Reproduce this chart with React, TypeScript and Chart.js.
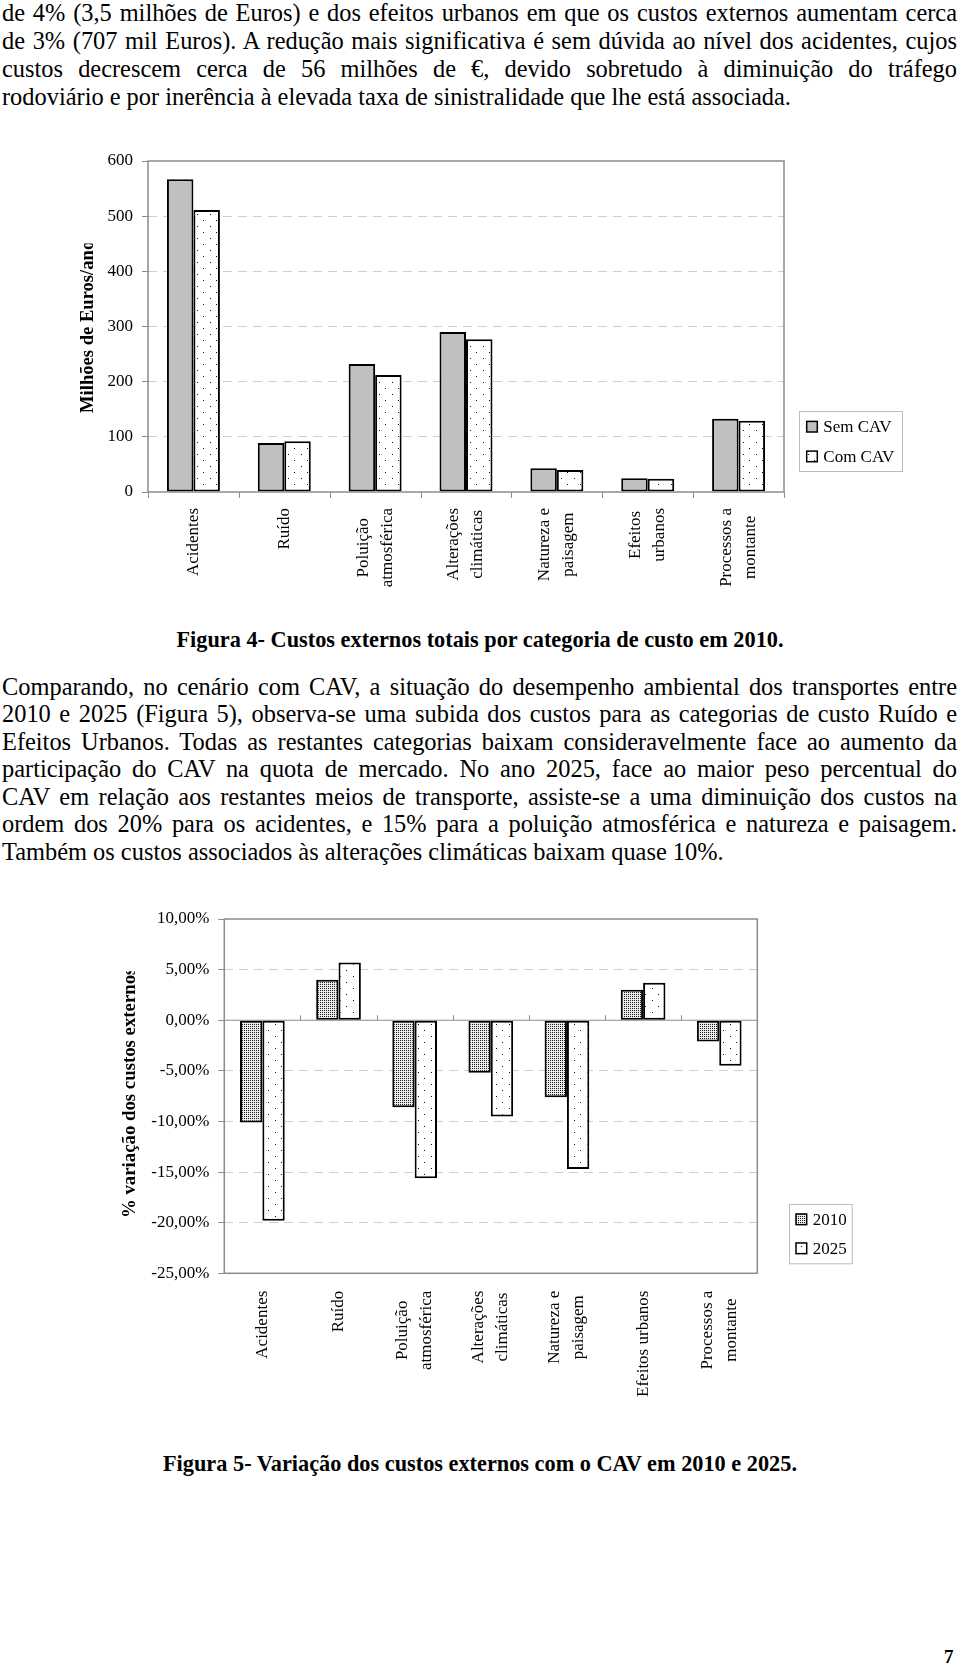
import React, { useEffect, useRef } from 'react';
import { Chart, registerables } from 'chart.js';

Chart.register(...registerables);

// ---------- Figure 4 data ----------
const fig4Categories: (string | string[])[] = [
  'Acidentes',
  'Ruído',
  ['Poluição', 'atmosférica'],
  ['Alterações', 'climáticas'],
  ['Natureza e', 'paisagem'],
  ['Efeitos', 'urbanos'],
  ['Processos a', 'montante'],
];
const fig4SeriesNames = ['Sem CAV', 'Com CAV'];
const fig4SemCAV = [567, 89, 232, 290, 43, 25, 133];
const fig4ComCAV = [511, 92, 212, 277, 40, 24, 129];
const fig4YMin = 0;
const fig4YMax = 600;
const fig4YStep = 100;
const fig4YTitle = 'Milhões de Euros/ano';
const fig4Caption = 'Figura 4- Custos externos totais por categoria de custo em 2010.';

// ---------- Figure 5 data ----------
const fig5Categories: (string | string[])[] = [
  'Acidentes',
  'Ruído',
  ['Poluição', 'atmosférica'],
  ['Alterações', 'climáticas'],
  ['Natureza e', 'paisagem'],
  'Efeitos urbanos',
  ['Processos a', 'montante'],
];
const fig5SeriesNames = ['2010', '2025'];
const fig5Y2010 = [-10.1, 4.0, -8.6, -5.2, -7.6, 3.0, -2.1];
const fig5Y2025 = [-19.8, 5.7, -15.6, -9.5, -14.7, 3.7, -4.5];
const fig5YMin = -25;
const fig5YMax = 10;
const fig5YStep = 5;
const fig5YTitle = '% variação dos custos externos';
const fig5Caption = 'Figura 5- Variação dos custos externos com o CAV em 2010 e 2025.';

// ---------- Text ----------
const para1 = [
  'de 4% (3,5 milhões de Euros) e dos efeitos urbanos em que os custos externos aumentam cerca',
  'de 3% (707 mil Euros). A redução mais significativa é sem dúvida ao nível dos acidentes, cujos',
  'custos decrescem cerca de 56 milhões de €, devido sobretudo à diminuição do tráfego',
  'rodoviário e por inerência à elevada taxa de sinistralidade que lhe está associada.',
];
const para2 = [
  'Comparando, no cenário com CAV, a situação do desempenho ambiental dos transportes entre',
  '2010 e 2025 (Figura 5), observa-se uma subida dos custos para as categorias de custo Ruído e',
  'Efeitos Urbanos. Todas as restantes categorias baixam consideravelmente face ao aumento da',
  'participação do CAV na quota de mercado. No ano 2025, face ao maior peso percentual do',
  'CAV em relação aos restantes meios de transporte, assiste-se a uma diminuição dos custos na',
  'ordem dos 20% para os acidentes, e 15% para a poluição atmosférica e natureza e paisagem.',
  'Também os custos associados às alterações climáticas baixam quase 10%.',
];
const pageNumber = '7';

const FONT = "'Liberation Serif', 'Times New Roman', serif";

function makePattern(w: number, h: number, dots: [number, number][], size = 1, dot = '#000', bg = '#fff') {
  const c = document.createElement('canvas');
  c.width = w;
  c.height = h;
  const x = c.getContext('2d')!;
  x.fillStyle = bg;
  x.fillRect(0, 0, w, h);
  x.fillStyle = dot;
  dots.forEach(([a, b]) => x.fillRect(a, b, size, size));
  return x.createPattern(c, 'repeat')!;
}

const decorPlugin = {
  id: 'decor',
  beforeDatasetsDraw(chart: any, _a: any, o: any) {
    if (!o || !o.zeroLine) return;
    const { ctx, chartArea: a } = chart;
    const z = chart.scales.y.getPixelForValue(0);
    ctx.save();
    ctx.strokeStyle = '#8c8c8c';
    ctx.lineWidth = 1.2;
    ctx.beginPath();
    ctx.moveTo(a.left, z);
    ctx.lineTo(a.right, z);
    ctx.stroke();
    ctx.restore();
  },
  afterDraw(chart: any, _a: any, o: any) {
    const { ctx, chartArea: a } = chart;
    const xs = chart.scales.x;
    const ys = chart.scales.y;
    ctx.save();
    // plot border
    ctx.strokeStyle = '#8c8c8c';
    ctx.lineWidth = 1.5;
    ctx.strokeRect(a.left, a.top, a.right - a.left, a.bottom - a.top);
    // category tick marks at the zero line
    const z = ys.getPixelForValue(0);
    const half = (xs.getPixelForValue(1) - xs.getPixelForValue(0)) / 2;
    ctx.lineWidth = 1;
    for (let i = o.tickFrom; i <= o.tickTo; i++) {
      const px = Math.round(xs.getPixelForValue(i) - half) + 0.5;
      ctx.beginPath();
      ctx.moveTo(px, z);
      ctx.lineTo(px, z + o.tickLen);
      ctx.stroke();
    }
    // rotated category labels
    ctx.fillStyle = '#000';
    ctx.font = `17px ${FONT}`;
    const top = a.bottom + o.labelGap;
    (chart.data.labels as any[]).forEach((lab, i) => {
      const lines: string[] = Array.isArray(lab) ? lab : [lab];
      const maxW = Math.max(...lines.map((l) => ctx.measureText(l).width));
      const cx = xs.getPixelForValue(i);
      lines.forEach((line, j) => {
        const lx = cx + (j - (lines.length - 1) / 2) * o.lineGap;
        ctx.save();
        ctx.translate(lx, top + maxW / 2);
        ctx.rotate(-Math.PI / 2);
        ctx.textAlign = 'center';
        ctx.textBaseline = 'middle';
        ctx.fillText(line, 0, 0);
        ctx.restore();
      });
    });
    // y-axis title (clipped like the original)
    const T = o.yTitle;
    ctx.font = `bold ${T.size}px ${FONT}`;
    const visW =
      ctx.measureText(T.text.slice(0, T.visibleChars)).width +
      T.partial * ctx.measureText(T.text[T.visibleChars]).width;
    ctx.save();
    ctx.beginPath();
    ctx.rect(0, T.y - visW, chart.width, chart.height);
    ctx.clip();
    ctx.translate(T.x, T.y);
    ctx.rotate(-Math.PI / 2);
    ctx.textAlign = 'left';
    ctx.textBaseline = 'middle';
    ctx.fillStyle = '#000';
    ctx.fillText(T.text, 0, 0);
    ctx.restore();
    // legend
    const L = o.legend;
    const bx = a.right + L.dx;
    const by = a.bottom - L.bottomGap - L.h;
    ctx.fillStyle = '#fff';
    ctx.fillRect(bx, by, L.w, L.h);
    ctx.strokeStyle = '#bdbdbd';
    ctx.lineWidth = 1;
    ctx.strokeRect(Math.round(bx) + 0.5, Math.round(by) + 0.5, L.w, L.h);
    chart.data.datasets.forEach((ds: any, k: number) => {
      const cy = by + L.firstRow + k * L.rowGap;
      ctx.fillStyle = ds.backgroundColor;
      ctx.fillRect(bx + L.sqX, cy - L.sq / 2, L.sq, L.sq);
      ctx.strokeStyle = '#000';
      ctx.lineWidth = 1.5;
      ctx.strokeRect(bx + L.sqX, cy - L.sq / 2, L.sq, L.sq);
      ctx.fillStyle = '#000';
      ctx.font = `17px ${FONT}`;
      ctx.textAlign = 'left';
      ctx.textBaseline = 'middle';
      ctx.fillText(ds.label, bx + L.textX, cy + 1);
    });
    ctx.restore();
  },
};

function gridColor(min: number, max: number) {
  return (c: any) => {
    const v = c.tick ? c.tick.value : null;
    if (v === min || v === max || v === 0) return 'rgba(0,0,0,0)';
    return '#cfcfcf';
  };
}

const sparseDots: [number, number][] = [
  [2, 2],
  [8, 8],
];

function Fig4() {
  const ref = useRef<HTMLCanvasElement>(null);
  useEffect(() => {
    const solidGray = '#c0c0c0';
    const sparse = makePattern(13, 12, sparseDots, 1, '#111');
    const chart = new Chart(ref.current!, {
      type: 'bar',
      data: {
        labels: fig4Categories as any,
        datasets: [
          {
            label: fig4SeriesNames[0],
            data: fig4SemCAV,
            backgroundColor: solidGray,
            borderColor: '#000',
            borderWidth: 2,
            borderSkipped: false,
            categoryPercentage: 0.583,
            barPercentage: 1,
          },
          {
            label: fig4SeriesNames[1],
            data: fig4ComCAV,
            backgroundColor: sparse as any,
            borderColor: '#000',
            borderWidth: 2,
            borderSkipped: false,
            categoryPercentage: 0.583,
            barPercentage: 1,
          },
        ],
      },
      options: {
        responsive: false,
        animation: false,
        events: [],
        layout: { padding: { left: 48, right: 176, top: 21, bottom: 18 } },
        scales: {
          x: {
            ticks: { display: false },
            grid: { display: false },
            border: { display: false },
            afterFit: (s: any) => {
              s.height = 100;
            },
          },
          y: {
            min: fig4YMin,
            max: fig4YMax,
            ticks: { stepSize: fig4YStep, font: { family: FONT, size: 17 }, color: '#000', padding: 9 },
            grid: { color: gridColor(fig4YMin, fig4YMax) as any, tickColor: '#8c8c8c', tickLength: 6, lineWidth: 1 },
            border: { display: false, dash: [9, 6] },
            afterFit: (s: any) => {
              s.width = 100;
            },
          },
        },
        plugins: {
          legend: { display: false },
          tooltip: { enabled: false },
          decor: {
            zeroLine: false,
            tickFrom: 0,
            tickTo: 7,
            tickLen: 6,
            labelGap: 16,
            lineGap: 24,
            yTitle: { text: fig4YTitle, size: 18.6, x: 88, y: 273, visibleChars: 19, partial: 0.7 },
            legend: { dx: 15.3, bottomGap: 20.6, w: 103, h: 60, firstRow: 15.3, rowGap: 29.7, sqX: 7.4, sq: 10.6, textX: 24 },
          },
        } as any,
      },
      plugins: [decorPlugin as any],
    });
    return () => chart.destroy();
  }, []);
  return (
    <canvas ref={ref} width={960} height={470} style={{ position: 'absolute', left: 0, top: 140, width: 960, height: 470 }} />
  );
}

function Fig5() {
  const ref = useRef<HTMLCanvasElement>(null);
  useEffect(() => {
    const dense = makePattern(4, 4, [[0, 0], [2, 2], [2, 0], [0, 2]], 1, '#1a1a1a', '#ececec');
    const sparse = makePattern(13, 12, sparseDots, 1, '#111');
    const chart = new Chart(ref.current!, {
      type: 'bar',
      data: {
        labels: fig5Categories as any,
        datasets: [
          {
            label: fig5SeriesNames[0],
            data: fig5Y2010,
            backgroundColor: dense as any,
            borderColor: '#000',
            borderWidth: 2,
            borderSkipped: false,
            categoryPercentage: 0.587,
            barPercentage: 1,
          },
          {
            label: fig5SeriesNames[1],
            data: fig5Y2025,
            backgroundColor: sparse as any,
            borderColor: '#000',
            borderWidth: 2,
            borderSkipped: false,
            categoryPercentage: 0.587,
            barPercentage: 1,
          },
        ],
      },
      options: {
        responsive: false,
        animation: false,
        events: [],
        layout: { padding: { left: 94.3, right: 202.7, top: 29, bottom: 26.7 } },
        scales: {
          x: {
            ticks: { display: false },
            grid: { display: false },
            border: { display: false },
            afterFit: (s: any) => {
              s.height = 120;
            },
          },
          y: {
            min: fig5YMin,
            max: fig5YMax,
            ticks: {
              stepSize: fig5YStep,
              font: { family: FONT, size: 17 },
              color: '#000',
              padding: 9,
              callback: (v: any) => `${Number(v).toFixed(2).replace('.', ',')}%`,
            },
            grid: { color: gridColor(fig5YMin, fig5YMax) as any, tickColor: '#8c8c8c', tickLength: 6, lineWidth: 1 },
            border: { display: false, dash: [9, 6] },
            afterFit: (s: any) => {
              s.width = 130;
            },
          },
        },
        plugins: {
          legend: { display: false },
          tooltip: { enabled: false },
          decor: {
            zeroLine: true,
            tickFrom: 1,
            tickTo: 6,
            tickLen: -5,
            labelGap: 17.4,
            lineGap: 24,
            yTitle: { text: fig5YTitle, size: 18.8, x: 130, y: 328, visibleChars: 29, partial: 0.5 },
            legend: { dx: 31.7, bottomGap: 10, w: 62.7, h: 59.3, firstRow: 15.3, rowGap: 29, sqX: 7, sq: 10.7, textX: 23.7 },
          },
        } as any,
      },
      plugins: [decorPlugin as any],
    });
    return () => chart.destroy();
  }, []);
  return (
    <canvas ref={ref} width={960} height={530} style={{ position: 'absolute', left: 0, top: 890, width: 960, height: 530 }} />
  );
}

function Para({ lines, top, lh }: { lines: string[]; top: number; lh: number }) {
  return (
    <div style={{ position: 'absolute', left: 2, top, width: 955, fontSize: 24.4, lineHeight: `${lh}px` }}>
      {lines.map((l, i) => {
        const last = i === lines.length - 1;
        return (
          <div
            key={i}
            style={{
              whiteSpace: 'nowrap',
              textAlign: last ? 'left' : 'justify',
              textAlignLast: last ? 'left' : 'justify',
            } as any}
          >
            {l}
          </div>
        );
      })}
    </div>
  );
}

function Caption({ text, top }: { text: string; top: number }) {
  return (
    <div
      style={{
        position: 'absolute',
        left: 0,
        top,
        width: 960,
        textAlign: 'center',
        fontWeight: 'bold',
        fontSize: 22.3,
        lineHeight: '26px',
        whiteSpace: 'nowrap',
      }}
    >
      {text}
    </div>
  );
}

export default function App() {
  useEffect(() => {
    document.body.style.margin = '0';
    document.body.style.overflow = 'hidden';
  }, []);
  return (
    <div
      style={{
        position: 'relative',
        width: 960,
        height: 1666,
        fontFamily: FONT,
        color: '#000',
        background: '#fff',
        overflow: 'hidden',
      }}
    >
      <Para lines={para1} top={-1.5} lh={28.2} />
      <Fig4 />
      <Caption text={fig4Caption} top={627} />
      <Para lines={para2} top={672.5} lh={27.6} />
      <Fig5 />
      <Caption text={fig5Caption} top={1451} />
      <div
        style={{
          position: 'absolute',
          left: 944,
          top: 1647,
          fontWeight: 'bold',
          fontSize: 19,
          lineHeight: 1,
        }}
      >
        {pageNumber}
      </div>
    </div>
  );
}
